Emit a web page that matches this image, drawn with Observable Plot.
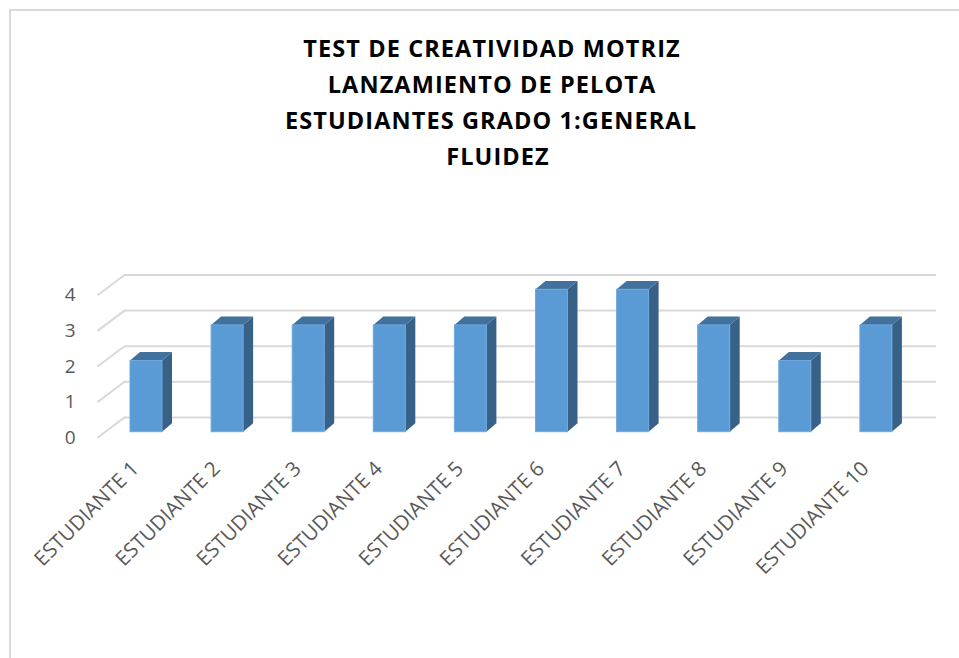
<!DOCTYPE html>
<html>
<head>
<meta charset="utf-8">
<script src="https://cdn.jsdelivr.net/npm/d3@7"></script>
<script src="https://cdn.jsdelivr.net/npm/@observablehq/plot@0.6"></script>
<style>
  html, body { margin: 0; padding: 0; background: #fff; overflow: hidden; }
  #wrap { position: relative; width: 959px; height: 658px; overflow: hidden; font-family: "Open Sans", sans-serif; }
  #frame { position: absolute; left: 9px; top: 9px; width: 1000px; height: 700px; border-left: 2px solid #d9d9d9; border-top: 2px solid #d9d9d9; }
  .tl { position: absolute; transform: translate(-50%, -50%); white-space: nowrap; font-weight: 700; font-size: 23.5px; letter-spacing: 1.1px; color: #000; }
  #chart { position: absolute; left: 0; top: 0; }
</style>
</head>
<body>
<div id="wrap">
  <div id="frame"></div>
  <div id="titles"></div>
  <div id="chart"></div>
</div>
<script>
// ---- data ----
const titleLines = ["TEST DE CREATIVIDAD MOTRIZ", "LANZAMIENTO DE PELOTA", "ESTUDIANTES GRADO 1:GENERAL", "FLUIDEZ"];
const students = ["ESTUDIANTE 1", "ESTUDIANTE 2", "ESTUDIANTE 3", "ESTUDIANTE 4", "ESTUDIANTE 5",
                  "ESTUDIANTE 6", "ESTUDIANTE 7", "ESTUDIANTE 8", "ESTUDIANTE 9", "ESTUDIANTE 10"];
const values = [2, 3, 3, 3, 3, 4, 4, 3, 2, 3];
const yTicks = [0, 1, 2, 3, 4];

// ---- layout (pixels) ----
const titleCenters = [[492, 48], [492, 84], [491, 120], [498, 156]];
const titlesEl = document.getElementById("titles");
titleLines.forEach((t, k) => {
  const d = document.createElement("div");
  d.className = "tl";
  d.textContent = t;
  d.style.left = titleCenters[k][0] + "px";
  d.style.top = titleCenters[k][1] + "px";
  titlesEl.appendChild(d);
});

const xDomain = [0, 11], xRange = [64.9, 957];
const yDomain = [0, 4], yRange = [431.7, 289.3];
const xs = d3.scaleLinear(xDomain, xRange);
const pxX = p => xs.invert(p);
const dUy = p => p / (yRange[0] - yRange[1]) * (yDomain[1] - yDomain[0]);
const dUx = p => p / (xRange[1] - xRange[0]) * (xDomain[1] - xDomain[0]);

const gridFrontX = pxX(97), gridBackX = pxX(124), gridRightX = pxX(936);
const gridFrontDy = dUy(-5.5), gridBackDy = dUy(14.8);
const halfW = dUx(16), depthX = dUx(10), depthY = dUy(8.4);

const bars = students.map((s, k) => ({name: s, i: k + 1, v: values[k]}));
const sidePts = bars.flatMap(b => [
  {i: b.i, x: b.i + halfW, y1: 0, y2: b.v},
  {i: b.i, x: b.i + halfW + depthX, y1: depthY, y2: b.v + depthY}
]);
const topPts = bars.flatMap(b => [
  {i: b.i, y: b.v, x1: b.i - halfW, x2: b.i + halfW},
  {i: b.i, y: b.v + depthY, x1: b.i - halfW + depthX, x2: b.i + halfW + depthX}
]);

const grid = "#d9d9d9", label = "#595959";
const chart = Plot.plot({
  width: 959,
  height: 658,
  x: {type: "linear", domain: xDomain, range: xRange, axis: null},
  y: {type: "linear", domain: yDomain, range: yRange, axis: null},
  style: {background: "transparent", fontFamily: "'Open Sans', sans-serif", overflow: "visible"},
  marks: [
    Plot.ruleY(yTicks, {y: d => d + gridBackDy, x1: gridBackX, x2: gridRightX, stroke: grid, strokeWidth: 2}),
    Plot.link(yTicks, {x1: gridFrontX, y1: d => d + gridFrontDy, x2: gridBackX, y2: d => d + gridBackDy, stroke: grid, strokeWidth: 2}),
    Plot.text(yTicks, {x: pxX(75), y: d => d + gridFrontDy, text: d => String(d), textAnchor: "end", fill: label, fontSize: 19}),
    Plot.areaY(sidePts, {x: "x", y1: "y1", y2: "y2", z: "i", fill: "#386188"}),
    Plot.areaX(topPts, {y: "y", x1: "x1", x2: "x2", z: "i", fill: "#41719c"}),
    Plot.rect(bars, {x1: d => d.i - halfW, x2: d => d.i + halfW, y1: 0, y2: "v", fill: "#5b9bd5", stroke: "#6fa8dc", strokeWidth: 1}),
    Plot.text(bars, {x: "i", y: d => 0, text: "name", rotate: -45, textAnchor: "end", dx: -11, dy: 33, fill: label, fontSize: 20.5})
  ]
});
document.getElementById("chart").appendChild(chart);
</script>
</body>
</html>
